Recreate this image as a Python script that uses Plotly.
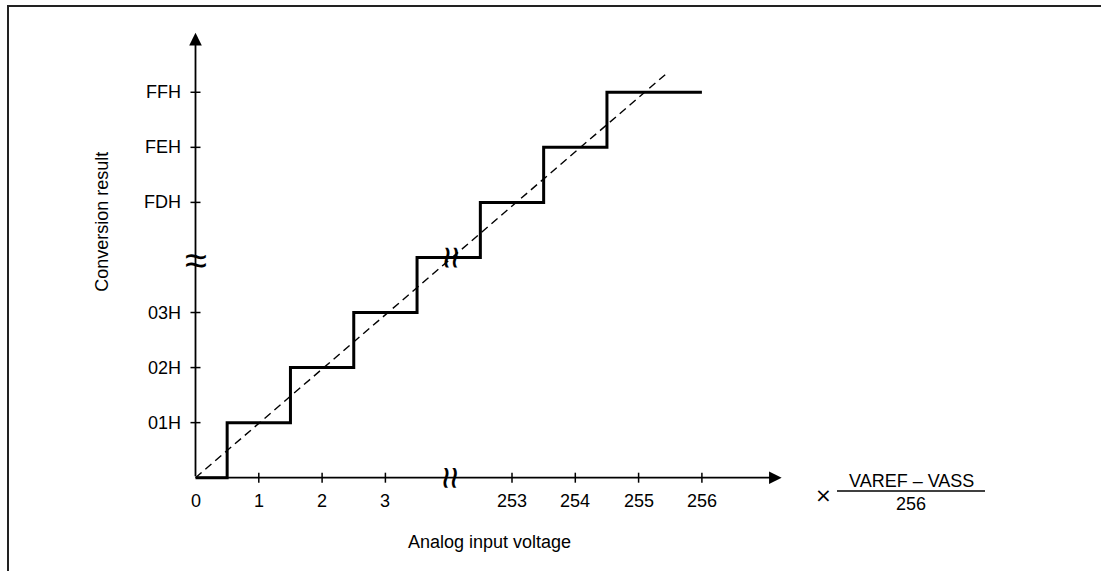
import plotly.graph_objects as go

# tick positions (index space) and their labels
x_ticks = [0, 1, 2, 3, 5, 6, 7, 8]
x_labels = ["0", "1", "2", "3", "253", "254", "255", "256"]
y_ticks = [1, 2, 3, 5, 6, 7]
y_labels = ["01H", "02H", "03H", "FDH", "FEH", "FFH"]
break_pos = 4

# staircase: code changes at each edge (hv steps)
step_x = [0, 0.5, 1.5, 2.5, 3.5, 4.5, 5.5, 6.5, 8]
step_y = [0, 1, 2, 3, 4, 5, 6, 7, 7]

# ideal transfer line
ideal_x = [0, 7.42]
ideal_y = [0, 7.32]

# axis arrow tips
x_tip = 9.26
y_tip = 8.08

W, H = 1101, 571
X0, SX = 195.5, 63.3   # pixel of x=0, px per unit
Y0, SY = 477.7, 55.06

FONT = "Liberation Sans, Arial, sans-serif"
FS = 18

fig = go.Figure()

# tick marks crossing the axes
tx, ty = [], []
for v in x_ticks[1:]:
    tx += [v, v, None]
    ty += [-5 / SY, 5 / SY, None]
for v in y_ticks:
    tx += [-5 / SX, 5 / SX, None]
    ty += [v, v, None]
fig.add_trace(go.Scatter(x=tx, y=ty, mode="lines",
                         line=dict(color="black", width=1.5), hoverinfo="skip"))

fig.add_trace(go.Scatter(x=ideal_x, y=ideal_y, mode="lines",
                         line=dict(color="black", width=1.4, dash="8px,5px"),
                         hoverinfo="skip"))
fig.add_trace(go.Scatter(x=step_x, y=step_y, mode="lines", line_shape="hv",
                         line=dict(color="black", width=3), hoverinfo="skip"))

ann = []
# axes with arrows
for tip in [(x_tip, 0), (0, y_tip)]:
    ann.append(dict(x=tip[0], y=tip[1], ax=0, ay=0, xref="x", yref="y",
                    axref="x", ayref="y", showarrow=True, arrowhead=2,
                    arrowsize=1.4, arrowwidth=1.8, arrowcolor="black", text=""))

for v, t in zip(x_ticks, x_labels):
    ann.append(dict(x=v, y=0, xref="x", yref="y", text=t, showarrow=False,
                    yshift=-23, font=dict(family=FONT, size=FS, color="black")))
for v, t in zip(y_ticks, y_labels):
    ann.append(dict(x=0, y=v, xref="x", yref="y", text=t, showarrow=False,
                    xanchor="right", xshift=-13,
                    font=dict(family=FONT, size=FS, color="black")))

# break marks
brk = dict(family=FONT, size=40, color="black")
ann.append(dict(x=0, y=break_pos, xref="x", yref="y", text="≈",
                showarrow=False, yshift=-3, font=brk))
ann.append(dict(x=break_pos, y=0, xref="x", yref="y", text="≈",
                showarrow=False, textangle=90, xshift=3, font=brk))
ann.append(dict(x=break_pos, y=break_pos, xref="x", yref="y", text="≈",
                showarrow=False, textangle=90, xshift=3, font=brk))


def label(px, py, text, **kw):
    d = dict(x=px / W, y=1 - py / H, xref="paper", yref="paper", text=text,
             showarrow=False, xanchor="center", yanchor="middle",
             font=dict(family=FONT, size=FS, color="black"))
    d.update(kw)
    ann.append(d)


label(101.7, 222, "Conversion result", textangle=-90)
label(489, 541.7, "Analog input voltage")
label(823, 495, "×", font=dict(family="DejaVu Sans", size=20, color="black"))
label(911, 481, "VAREF – VASS")
label(911, 504, "256")

shapes = [
    dict(type="line", xref="paper", yref="paper",
         x0=837 / W, x1=985 / W, y0=1 - 491 / H, y1=1 - 491 / H,
         line=dict(color="black", width=1.5)),
    dict(type="rect", xref="paper", yref="paper",
         x0=8 / W, x1=1.05, y0=-0.05, y1=1 - 6 / H,
         line=dict(color="#222", width=2)),
]

fig.update_layout(
    width=W, height=H,
    margin=dict(l=0, r=0, t=0, b=0),
    paper_bgcolor="white", plot_bgcolor="white",
    showlegend=False,
    annotations=ann, shapes=shapes,
    xaxis=dict(range=[-X0 / SX, (W - X0) / SX], visible=False, fixedrange=True),
    yaxis=dict(range=[(Y0 - H) / SY, Y0 / SY], visible=False, fixedrange=True),
)

fig.write_html("out.html", config={"displayModeBar": False},
               post_script="document.body.style.margin='0';")
